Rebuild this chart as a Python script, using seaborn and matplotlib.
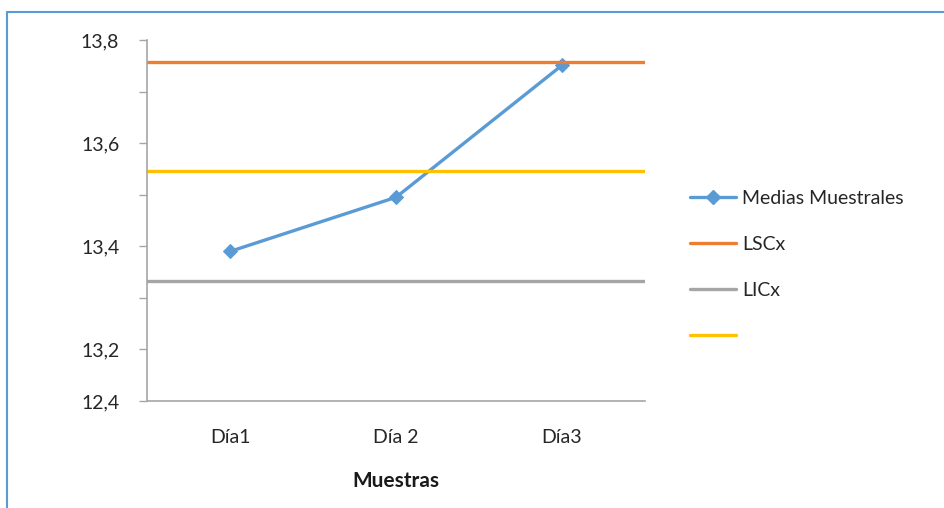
import pandas as pd
import numpy as np
import seaborn as sns
import matplotlib.pyplot as plt
from matplotlib.lines import Line2D

dias = ["Día1", "Día 2", "Día3"]
medias = [13.39, 13.495, 13.751]
lsc = 13.757
lic = 13.332
central = 13.546

ytick_vals = [13.1, 13.2, 13.3, 13.4, 13.5, 13.6, 13.7, 13.8]
ytick_labels = ["12,4", "13,2", "", "13,4", "", "13,6", "", "13,8"]

sns.set_style("white")
plt.rcParams['font.family'] = ['Lato', 'DejaVu Sans']

df = pd.DataFrame({"Muestras": dias, "Medias": medias})

fig = plt.figure(figsize=(9.44, 5.08), dpi=100)
ax = fig.add_axes([147/944, 1 - 401/508, (645-147)/944, (401-40)/508])

sns.lineplot(data=df, x="Muestras", y="Medias", ax=ax, color="#5B9BD5",
             linewidth=2.4, marker="D", markersize=7, markeredgecolor="#5B9BD5",
             sort=False)
ax.axhline(lsc, color="#ED7D31", linewidth=2.4)
ax.axhline(lic, color="#A5A5A5", linewidth=2.4)
ax.axhline(central, color="#FFC000", linewidth=2.4)

ax.set_xlim(-0.5, 2.5)
ax.set_ylim(13.1, 13.8)
ax.set_yticks(ytick_vals)
ax.set_yticklabels(ytick_labels, fontsize=14, color="#262626")
ax.tick_params(axis="y", length=6, color="#A6A6A6", width=1, direction="out", left=True, pad=14)
ax.tick_params(axis="x", length=0, labelsize=14, labelcolor="#262626", pad=20)
ax.set_ylabel("")
ax.set_xlabel("Muestras", fontsize=15, fontweight="bold", labelpad=18, color="#1a1a1a")
for s in ["top", "right"]:
    ax.spines[s].set_visible(False)
for s in ["left", "bottom"]:
    ax.spines[s].set_color("#A6A6A6")
    ax.spines[s].set_linewidth(1.2)

handles = [
    Line2D([], [], color="#5B9BD5", linewidth=2.4, marker="D", markersize=7),
    Line2D([], [], color="#ED7D31", linewidth=2.4),
    Line2D([], [], color="#A5A5A5", linewidth=2.4),
    Line2D([], [], color="#FFC000", linewidth=2.4),
]
labels = ["Medias Muestrales", "LSCx", "LICx", " "]
fig.legend(handles, labels, loc="upper left", bbox_to_anchor=(672/944, 1 - 172/508),
           frameon=False, fontsize=14, handlelength=2.4, handletextpad=0.3,
           labelspacing=1.5)

# blue frame around the chart
fig.add_artist(Line2D([7/944, 1.0], [1 - 12/508, 1 - 12/508], color="#5B9BD5", linewidth=1.5))
fig.add_artist(Line2D([7/944, 7/944], [0, 1 - 12/508], color="#5B9BD5", linewidth=1.5))

fig.savefig("out.png", dpi=100)
